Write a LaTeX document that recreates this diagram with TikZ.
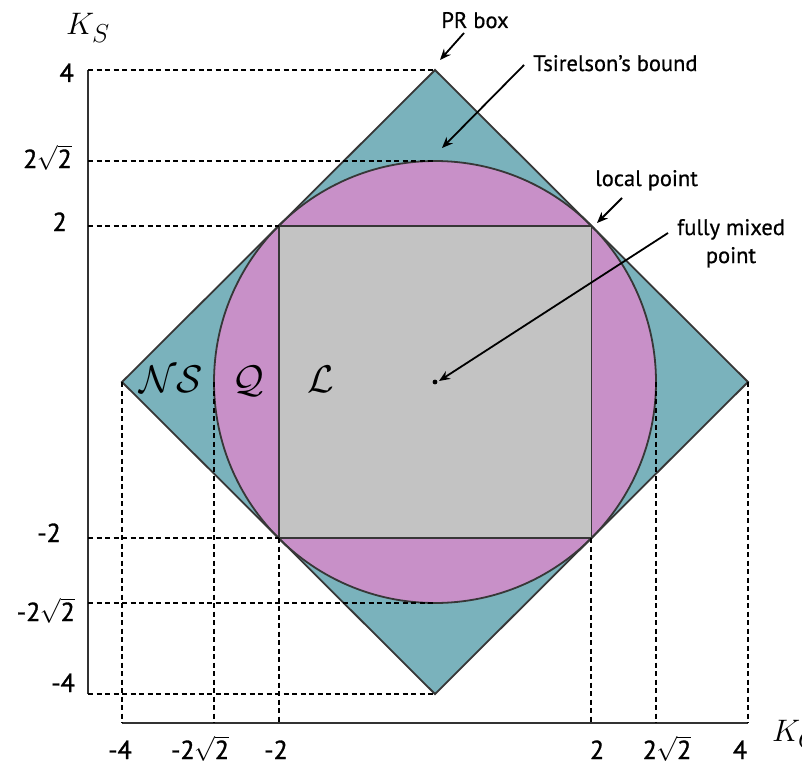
\documentclass[tikz,border=0pt]{standalone}
\usepackage{fontspec}
\setmainfont{PT Sans}
\newfontfamily\labfont{PT Sans}[FakeBold=0.7]
\newfontfamily\tickfont{PT Sans}[FakeBold=1.2]
\usetikzlibrary{arrows.meta}
\definecolor{nsteal}{RGB}{122,178,188}
\definecolor{qpink}{RGB}{200,144,200}
\definecolor{lgray}{RGB}{195,195,195}
\definecolor{edge}{RGB}{55,55,55}
\newcommand\rtt{2\kern-0.5pt$\sqrt{\mbox{2}}$}
\begin{document}
\begin{tikzpicture}[x=1pt,y=-1pt,
  shapeline/.style={draw=edge,line width=1.8pt},
  guide/.style={dashed,dash pattern=on 5pt off 3.5pt,line width=2pt,black},
  axisline/.style={line width=2.4pt,draw=black!80},
  tick/.style={font=\tickfont\fontsize{26}{28}\selectfont,inner sep=0pt},
  lab/.style={font=\labfont\fontsize{22.5}{28}\selectfont,inner sep=0pt},
  setname/.style={font=\fontsize{24.88}{28}\selectfont,inner sep=0pt,anchor=base},
  axname/.style={font=\fontsize{24.88}{28}\selectfont,inner sep=0pt,anchor=base west},
  ann/.style={-{Stealth[length=11pt,width=9pt]},line width=1.8pt}]
\useasboundingbox (0,0) rectangle (802,765);
% key points
\coordinate (C) at (435,382);
\coordinate (T) at (435,70);
\coordinate (B) at (435,694);
\coordinate (Lf) at (122,382);
\coordinate (R) at (748,382);
\coordinate (SQtl) at (278.6,226);
\coordinate (SQtr) at (591.4,226);
\coordinate (SQbl) at (278.6,538);
\coordinate (SQbr) at (591.4,538);
\coordinate (CIt) at (435,161);
\coordinate (CIb) at (435,603);
\coordinate (CIl) at (214,382);
\coordinate (CIr) at (656,382);
% shapes
\fill[nsteal] (T) -- (R) -- (B) -- (Lf) -- cycle;
\fill[qpink] (C) circle[radius=221pt];
\fill[lgray] (SQtl) rectangle (SQbr);
\draw[shapeline] (C) circle[radius=221pt];
\draw[shapeline] (T) -- (R) -- (B) -- (Lf) -- cycle;
\draw[shapeline] (SQtl) rectangle (SQbr);
% axes
\coordinate (Ytop) at (88,70);
\coordinate (Ybot) at (88,694);
\coordinate (Xl) at (122,723);
\coordinate (Xr) at (748,723);
\draw[axisline] (Ytop) -- (Ybot);
\draw[axisline] (Xl) -- (Xr);
% guides horizontal
\draw[guide] (Ytop) -- (T);
\draw[guide] (88,161) -- (CIt);
\draw[guide] (88,226) -- (SQtl);
\draw[guide] (88,538) -- (SQbl);
\draw[guide] (88,603) -- (CIb);
\draw[guide] (Ybot) -- (B);
% guides vertical
\draw[guide] (Lf) -- (Xl);
\draw[guide] (CIl) -- (214,723);
\draw[guide] (SQbl) -- (278.6,723);
\draw[guide] (SQbr) -- (591.4,723);
\draw[guide] (CIr) -- (656,723);
\draw[guide] (R) -- (Xr);
% tick labels
\node[tick,anchor=base east] (y4) at (74,82) {4};
\node[tick,anchor=base east] (y22) at (72,168) {\rtt};
\node[tick,anchor=base east] (y2) at (67,231) {2};
\node[tick,anchor=base east] (ym2) at (61,542) {-2};
\node[tick,anchor=base east] (ym22) at (75,621) {-\rtt};
\node[tick,anchor=base east] (ym4) at (75,692) {-4};
\node[tick,anchor=base] (xm4) at (120,759) {-4};
\node[tick,anchor=base] (xm22) at (200,759) {-\rtt};
\node[tick,anchor=base] (xm2) at (276,759) {-2};
\node[tick,anchor=base] (x2) at (597,759) {2};
\node[tick,anchor=base] (x22) at (667,759) {\rtt};
\node[tick,anchor=base] (x4) at (740,759) {4};
% axis names
\node[axname] (KS) at (66,35) {\scalebox{1.25}{$K_S$}};
\node[axname] (KC) at (772,741) {\scalebox{1.25}{$K_C$}};
% set names
\node[setname] (NS) at (171,392) {\scalebox{1.55}{$\mathcal{NS}$}};
\node[setname] (Q) at (248,392) {\scalebox{1.55}{$\mathcal{Q}$}};
\node[setname] (L) at (321,392) {\scalebox{1.55}{$\mathcal{L}$}};
% centre point
\fill (C) circle[radius=2.4pt];
\coordinate (Cend) at (439,381);
% annotations
\node[lab,anchor=base] (PR) at (475,28) {PR box};
\node[lab,anchor=base west] (TS) at (533,71) {Tsirelson’s bound};
\node[lab,anchor=base west] (LP) at (595,186) {local point};
\node[lab,anchor=base] (FM) at (731,235) {fully mixed};
\node[lab,anchor=base] (FM2) at (731,263) {point};
\coordinate (PRt) at (464,33);
\coordinate (PRh) at (440,60);
\coordinate (TSt) at (524,65);
\coordinate (TSh) at (442,148);
\coordinate (LPt) at (622,198);
\coordinate (LPh) at (597,223);
\coordinate (FMt) at (668,233);
\draw[ann] (PRt) -- (PRh);
\draw[ann] (TSt) -- (TSh);
\draw[ann] (LPt) -- (LPh);
\draw[ann] (FMt) -- (Cend);
\end{tikzpicture}
\end{document}
